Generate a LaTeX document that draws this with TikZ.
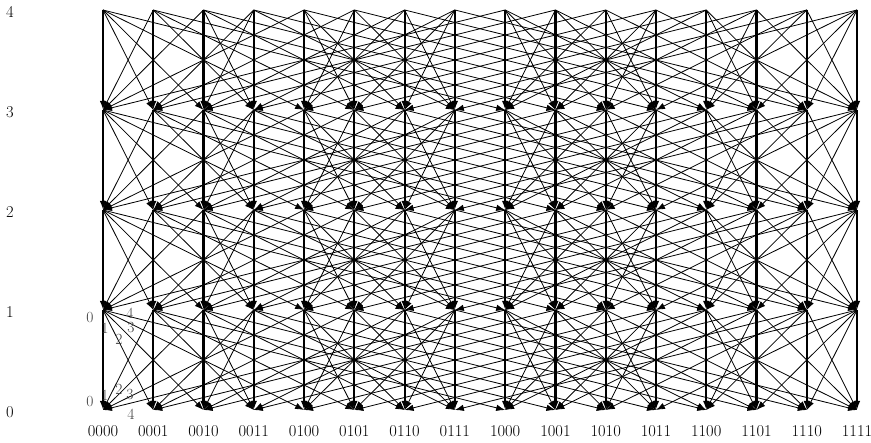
\documentclass[tikz,border=0pt]{standalone}
\usepackage{fontspec}
\usetikzlibrary{arrows.meta}
\begin{document}
\begin{tikzpicture}[x=1pt,y=-1pt,
  edge/.style={line width=0.8pt,-{Latex[length=9pt,width=6.5pt]}},
  vedge/.style={line width=2.2pt,-{Latex[length=9pt,width=6.5pt]}},
  lab/.style={inner sep=0pt,font=\fontsize{16.5}{19}\selectfont},
  port/.style={inner sep=0pt,text=black!75,font=\fontsize{15.5}{18}\selectfont}]
\useasboundingbox (0,0) rectangle (871,443);
\foreach \L in {0,...,4}{
  \foreach \k in {0,...,15}{
    \coordinate (n-\L-\k) at ({103+50.27*\k},{410-100*\L});
  }
  \node[lab] (r-\L) at (10,{412-100*\L}) {\L};
}
\foreach \k/\s in {0/0000,1/0001,2/0010,3/0011,4/0100,5/0101,6/0110,7/0111,8/1000,9/1001,10/1010,11/1011,12/1100,13/1101,14/1110,15/1111}{
  \node[lab] (c-\k) at ({103+50.27*\k},431) {\s};
}
\foreach \L in {0,...,3}{
  \foreach \k in {0,...,15}{
    \foreach \b in {0,...,3}{
      \pgfmathtruncatemacro\p{2^\b}
      \pgfmathtruncatemacro\bit{mod(floor(\k/\p),2)}
      \pgfmathtruncatemacro\t{\bit==0 ? \k+\p : \k-\p}
      \pgfmathtruncatemacro\U{\L+1}
      \draw[edge] (n-\U-\k) -- (n-\L-\t);
    }
  }
}
\foreach \L in {0,...,3}{
  \foreach \k in {0,...,15}{
    \pgfmathtruncatemacro\U{\L+1}
    \draw[vedge] (n-\U-\k) -- (n-\L-\k);
  }
}
% port labels at level 1
\node[port] (pa0) at (90,318) {0};
\node[port] (pa1) at (105,328) {1};
\node[port] (pa2) at (119,339) {2};
\node[port] (pa3) at (131,328) {3};
\node[port] (pa4) at (130,313) {4};
% port labels at level 0
\node[port] (pb0) at (90,402) {0};
\node[port] (pb1) at (105,395) {1};
\node[port] (pb2) at (119,389) {2};
\node[port] (pb3) at (130,395) {3};
\node[port] (pb4) at (131,414) {4};
\end{tikzpicture}
\end{document}
